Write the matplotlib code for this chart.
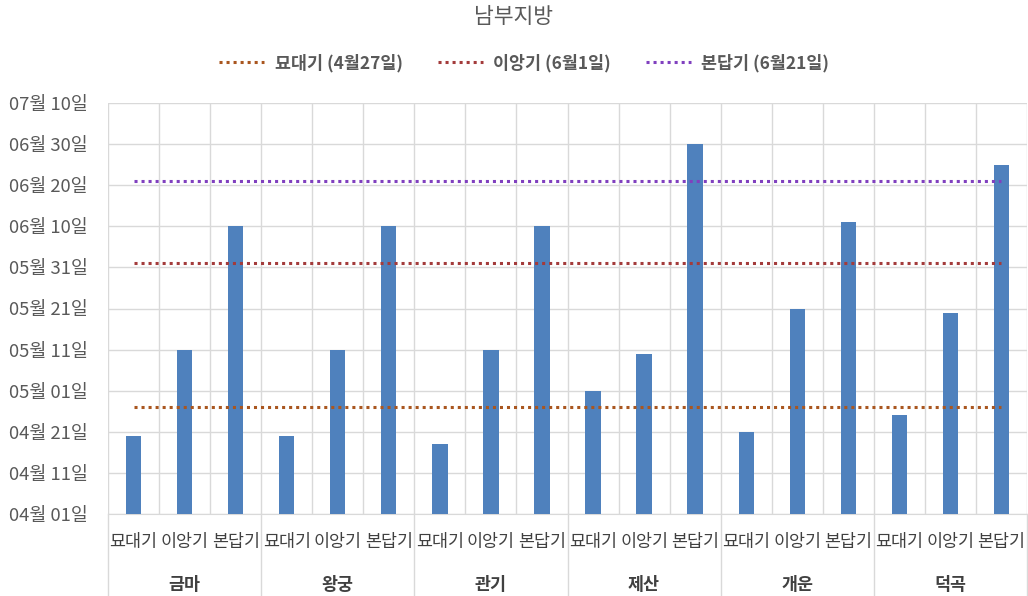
import numpy as np
import pandas as pd
import matplotlib
matplotlib.use("Agg")
import matplotlib.pyplot as plt
import matplotlib.dates as mdates

plt.rcParams['font.family'] = ['Noto Sans CJK KR', 'DejaVu Sans']

# 데이터
지역 = ['금마', '왕궁', '관기', '제산', '개운', '덕곡']
단계 = ['묘대기', '이앙기', '본답기']
날짜 = [
    ['04-20', '05-11', '06-10'],   # 금마
    ['04-20', '05-11', '06-10'],   # 왕궁
    ['04-18', '05-11', '06-10'],   # 관기
    ['05-01', '05-10', '06-30'],   # 제산
    ['04-21', '05-21', '06-11'],   # 개운
    ['04-25', '05-20', '06-25'],   # 덕곡
]
기준_이름 = ['묘대기 (4월27일)', '이앙기 (6월1일)', '본답기 (6월21일)']
기준_날짜 = ['04-27', '06-01', '06-21']
기준_색 = ['#A9561F', '#A33B3B', '#8040BF']

y_min, y_max = '04-01', '07-10'

def d(s):
    return mdates.date2num(pd.Timestamp('2020-' + s))

vals = np.array([d(s) for row in 날짜 for s in row])
n = len(vals)
x = np.arange(n)
base = d(y_min)

fig = plt.figure(figsize=(10.28, 5.96), dpi=100)
ax = fig.add_axes([108/1028, 82/596, 919/1028, 411/596])

ax.bar(x, vals - base, bottom=base, width=0.3, color='#4F81BD', zorder=3)

for name, s, c in zip(기준_이름, 기준_날짜, 기준_색):
    ax.plot([x[0], x[-1]], [d(s), d(s)], color=c, lw=2.2,
            linestyle=(0, (1, 1.3)), dash_capstyle='butt', zorder=4, label=name)

ax.set_xlim(-0.5, n - 0.5)
ax.set_ylim(base, d(y_max))
ax.set_yticks(np.arange(base, d(y_max) + 1, 10))
ax.yaxis.set_major_formatter(mdates.DateFormatter('%m월 %d일'))
ax.grid(axis='y', color='#D9D9D9', lw=1, zorder=0)
for k in range(n + 1):
    ax.axvline(k - 0.5, color='#D9D9D9', lw=1, zorder=0)

for sp in ['top', 'right', 'left']:
    ax.spines[sp].set_visible(False)
ax.spines['bottom'].set_color('#D9D9D9')
ax.tick_params(axis='y', length=0, pad=14.5, labelsize=13.3, labelcolor='#595959')
ax.tick_params(axis='x', length=0, pad=14)
ax.set_xticks(x)
ax.set_xticklabels(단계 * len(지역), fontsize=12.5, color='#404040')

# 그룹 라벨 및 구분선
trans = ax.get_xaxis_transform()
for g, name in enumerate(지역):
    ax.text(g * 3 + 1, -0.173, name, transform=trans, ha='center', va='center',
            fontsize=12.5, color='#404040', fontweight='bold')
for g in range(len(지역) + 1):
    ax.plot([g * 3 - 0.5, g * 3 - 0.5], [0, -0.2], transform=trans,
            color='#D9D9D9', lw=1, clip_on=False)

fig.text(0.5, 1 - 17/596, '남부지방', ha='center', va='center', fontsize=15.5, color='#595959')
leg = fig.legend(loc='center', bbox_to_anchor=(0.51, 1 - 63/596), ncol=3, frameon=False,
                 handlelength=2.6, handletextpad=0.6, columnspacing=2.0,
                 prop={'size': 12.5, 'weight': 'bold'})
for t in leg.get_texts():
    t.set_color('#595959')

fig.savefig('out.png', dpi=100)
